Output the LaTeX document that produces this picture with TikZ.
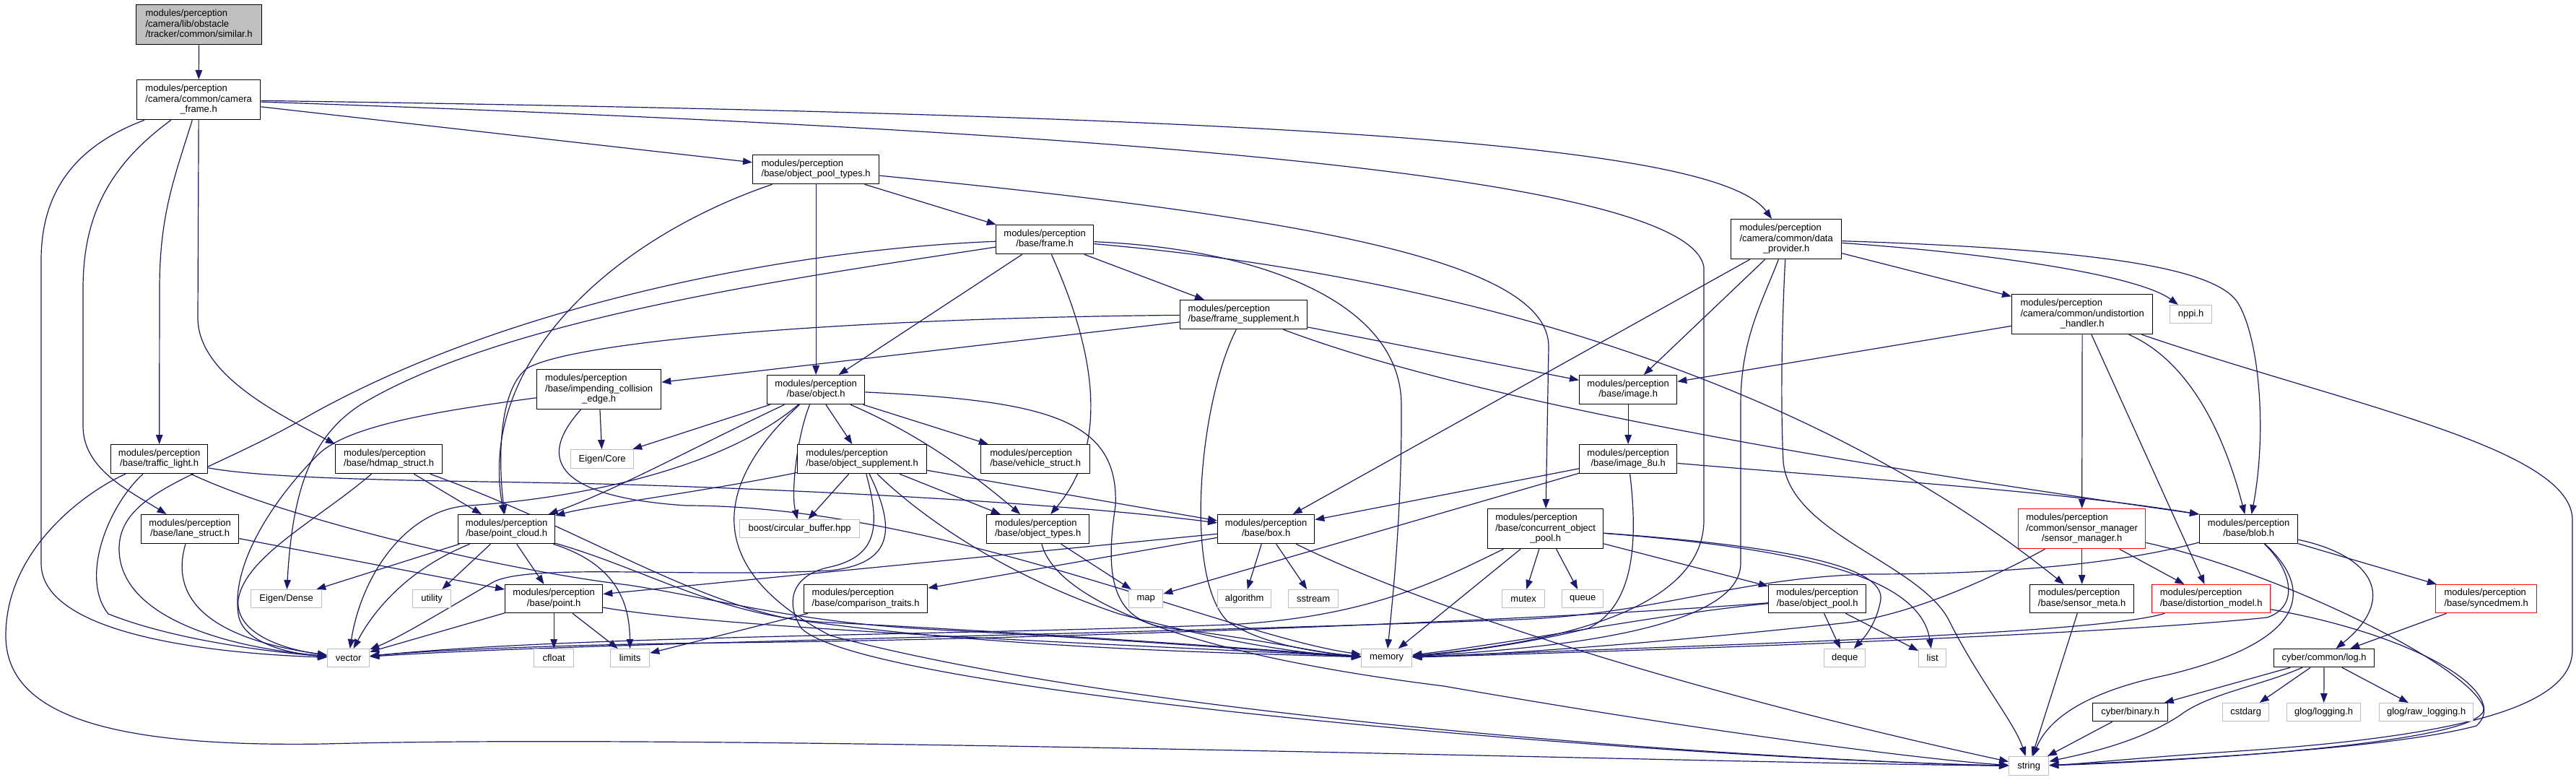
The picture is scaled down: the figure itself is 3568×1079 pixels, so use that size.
\documentclass[tikz,border=0pt]{standalone}
\usepackage{fontspec}
\setmainfont{Liberation Sans}
\usetikzlibrary{arrows.meta}
\pgfdeclarelayer{bg}
\pgfsetlayers{bg,main}
\definecolor{edgec}{HTML}{191970}
\definecolor{grayb}{HTML}{BFBFBF}
\newcommand\twol[2]{\begin{tabular}{@{}l@{}}#1\\\multicolumn{1}{@{}c@{}}{#2}\end{tabular}}
\newcommand\threel[3]{\begin{tabular}{@{}l@{}}#1\\#2\\\multicolumn{1}{@{}c@{}}{#3}\end{tabular}}
\newcommand\modp{modules/perception}
\newcommand\nd[7]{\node[#6,minimum width={#4-#2},minimum height={#5-#3},anchor=north west] (#1) at (#2,#3) {#7};}
\begin{document}
\begin{tikzpicture}[x=1pt,y=-1pt,
 nb/.style={font=\fontsize{13}{14.7}\selectfont,inner sep=0pt,line width=1.3pt,fill=white,text=black},
 fb/.style={nb,draw=black},
 sb/.style={nb,draw=grayb},
 rb/.style={nb,draw=red},
 rootb/.style={nb,draw=black,fill=grayb},
 edg/.style={draw=edgec,line width=1.2pt,-{Triangle[length=13pt,width=9.5pt]}}]
\useasboundingbox (0,0) rectangle (3568,1079);
\begin{pgfonlayer}{bg}
\fill[white] (0,0) rectangle (3568,1079);
\end{pgfonlayer}
% nodes
\nd{sim}{188}{6}{362}{61}{rootb}{\threel{\modp}{/camera/lib/obstacle}{/tracker/common/similar.h}}
\nd{cf}{189}{110}{360}{165}{fb}{\threel{\modp}{/camera/common/camera}{\_frame.h}}
\nd{opt}{1042}{214}{1217}{254}{fb}{\twol{\modp}{/base/object\_pool\_types.h}}
\nd{fr}{1379}{311}{1514}{351}{fb}{\twol{\modp}{/base/frame.h}}
\nd{dp}{2397}{303}{2550}{358}{fb}{\threel{\modp}{/camera/common/data}{\_provider.h}}
\nd{udh}{2786}{407}{2981}{462}{fb}{\threel{\modp}{/camera/common/undistortion}{\_handler.h}}
\nd{nppi}{3005}{422}{3063}{447}{sb}{nppi.h}
\nd{fs}{1634}{415}{1810}{455}{fb}{\twol{\modp}{/base/frame\_supplement.h}}
\nd{ice}{743}{511}{915}{566}{fb}{\threel{\modp}{/base/impending\_collision}{\_edge.h}}
\nd{obj}{1062}{519}{1197}{559}{fb}{\twol{\modp}{/base/object.h}}
\nd{img}{2187}{519}{2322}{559}{fb}{\twol{\modp}{/base/image.h}}
\nd{ecore}{790}{622}{877}{648}{sb}{Eigen/Core}
\nd{tl}{153}{615}{287}{655}{fb}{\twol{\modp}{/base/traffic\_light.h}}
\nd{hd}{464}{615}{612}{655}{fb}{\twol{\modp}{/base/hdmap\_struct.h}}
\nd{osup}{1104}{615}{1283}{655}{fb}{\twol{\modp}{/base/object\_supplement.h}}
\nd{veh}{1358}{615}{1509}{655}{fb}{\twol{\modp}{/base/vehicle\_struct.h}}
\nd{i8u}{2187}{615}{2322}{655}{fb}{\twol{\modp}{/base/image\_8u.h}}
\nd{ls}{195}{712}{330}{752}{fb}{\twol{\modp}{/base/lane\_struct.h}}
\nd{pc}{634}{712}{768}{752}{fb}{\twol{\modp}{/base/point\_cloud.h}}
\nd{bcb}{1024}{719}{1190}{744}{sb}{boost/circular\_buffer.hpp}
\nd{ot}{1366}{712}{1508}{752}{fb}{\twol{\modp}{/base/object\_types.h}}
\nd{box}{1686}{712}{1820}{752}{fb}{\twol{\modp}{/base/box.h}}
\nd{cop}{2060}{704}{2220}{759}{fb}{\threel{\modp}{/base/concurrent\_object}{\_pool.h}}
\nd{sm}{2795}{704}{2971}{759}{rb}{\threel{\modp}{/common/sensor\_manager}{/sensor\_manager.h}}
\nd{blob}{3046}{712}{3182}{752}{fb}{\twol{\modp}{/base/blob.h}}
\nd{edense}{347}{816}{445}{841}{sb}{Eigen/Dense}
\nd{util}{571}{816}{624}{841}{sb}{utility}
\nd{pt}{699}{809}{834}{848}{fb}{\twol{\modp}{/base/point.h}}
\nd{ct}{1113}{809}{1284}{848}{fb}{\twol{\modp}{/base/comparison\_traits.h}}
\nd{map}{1563}{816}{1610}{841}{sb}{map}
\nd{algo}{1686}{816}{1760}{841}{sb}{algorithm}
\nd{sstr}{1784}{816}{1853}{841}{sb}{sstream}
\nd{mutex}{2080}{816}{2139}{841}{sb}{mutex}
\nd{queue}{2163}{816}{2220}{841}{sb}{queue}
\nd{op}{2449}{809}{2584}{848}{fb}{\twol{\modp}{/base/object\_pool.h}}
\nd{smeta}{2811}{809}{2955}{848}{fb}{\twol{\modp}{/base/sensor\_meta.h}}
\nd{dm}{2980}{809}{3144}{848}{rb}{\twol{\modp}{/base/distortion\_model.h}}
\nd{sync}{3373}{809}{3513}{848}{rb}{\twol{\modp}{/base/syncedmem.h}}
\nd{vec}{453}{898}{511}{923}{sb}{vector}
\nd{cfl}{739}{898}{794}{923}{sb}{cfloat}
\nd{lim}{845}{898}{899}{923}{sb}{limits}
\nd{mem}{1885}{898}{1955}{923}{sb}{memory}
\nd{dq}{2526}{898}{2583}{923}{sb}{deque}
\nd{list}{2657}{898}{2695}{923}{sb}{list}
\nd{log}{3149}{898}{3288}{923}{fb}{cyber/common/log.h}
\nd{bin}{2898}{973}{3002}{998}{fb}{cyber/binary.h}
\nd{cstd}{3078}{973}{3142}{998}{sb}{cstdarg}
\nd{glog}{3167}{973}{3269}{998}{sb}{glog/logging.h}
\nd{glograw}{3295}{973}{3425}{998}{sb}{glog/raw\_logging.h}
\nd{str}{2782}{1047}{2837}{1073}{sb}{string}
% edges
\begin{pgfonlayer}{bg}
\draw[edg] (sim) -- (cf);
% camera_frame
\draw[edg] (cf) .. controls (1800,160) and (2380,200) .. (dp);
\draw[edg] (cf) -- (opt);
\draw[edg] (cf) .. controls (1500,180) and (2340,240) .. (2360,370) -- (2360,720) .. controls (2360,860) and (2100,895) .. (mem);
\draw[edg] (cf) .. controls (240,250) and (221,300) .. (221,400) -- (tl);
\draw[edg] (cf) .. controls (150,230) and (115,300) .. (115,400) -- (115,590) .. controls (115,650) and (180,680) .. (ls);
\draw[edg] (cf) .. controls (110,200) and (57,260) .. (57,360) -- (57,780) .. controls (57,880) and (300,905) .. (vec);
\draw[edg] (cf.south) -- (274,440) .. controls (274,520) and (390,575) .. (hd.north west);
% object_pool_types
\draw[edg] (opt) .. controls (850,330) and (660,500) .. (pc);
\draw[edg] (opt) -- (obj);
\draw[edg] (opt) -- (fr);
\draw[edg] (opt) .. controls (1800,300) and (2145,360) .. (2145,480) -- (cop);
% data_provider
\draw[edg] (dp) -- (box);
\draw[edg] (dp) -- (img);
\draw[edg] (dp) .. controls (2440,420) and (2411,470) .. (2411,560) -- (2411,780) .. controls (2411,880) and (2100,900) .. (mem);
\draw[edg] (dp) .. controls (2468,450) and (2466,560) .. (2470,640) .. controls (2480,740) and (2660,780) .. (2700,860) .. controls (2740,940) and (2790,1000) .. (str);
\draw[edg] (dp) -- (udh);
\draw[edg] (dp) .. controls (2750,350) and (2960,380) .. (nppi);
\draw[edg] (dp) .. controls (2900,345) and (3070,370) .. (3100,420) .. controls (3130,470) and (3140,600) .. (blob);
% undistortion_handler
\draw[edg] (udh) -- (img);
\draw[edg] (udh) -- (sm);
\draw[edg] (udh) -- (dm);
\draw[edg] (udh) .. controls (3010,490) and (3070,560) .. (blob);
\draw[edg] (udh) .. controls (3250,560) and (3563,620) .. (3563,720) -- (3563,900) .. controls (3563,980) and (3400,1020) .. (3100,1040) .. controls (2950,1050) and (2880,1058) .. (str);
% frame
\draw[edg] (fr) .. controls (1100,345) and (700,420) .. (420,580) .. controls (280,660) and (165,680) .. (165,760) .. controls (165,850) and (300,895) .. (vec);
\draw[edg] (fr) .. controls (1100,385) and (700,440) .. (500,560) .. controls (430,605) and (405,680) .. (edense);
\draw[edg] (fr) -- (obj);
\draw[edg] (fr) .. controls (1500,450) and (1550,600) .. (ot);
\draw[edg] (fr) -- (fs);
\draw[edg] (fr) .. controls (1750,345) and (1940,420) .. (1941,560) .. controls (1942,700) and (1930,820) .. (mem);
\draw[edg] (fr) .. controls (2000,380) and (2500,520) .. (smeta);
% frame_supplement
\draw[edg] (fs) .. controls (1200,440) and (800,470) .. (730,510) .. controls (690,540) and (690,640) .. (pc);
\draw[edg] (fs) -- (ice);
\draw[edg] (fs) .. controls (1660,560) and (1640,800) .. (1700,860) .. controls (1750,895) and (1840,905) .. (mem);
\draw[edg] (fs) -- (img);
\draw[edg] (fs) .. controls (2000,540) and (2400,620) .. (blob.north west);
% impending_collision_edge
\draw[edg] (ice) .. controls (600,570) and (480,590) .. (440,630) .. controls (380,690) and (320,780) .. (330,850) .. controls (335,890) and (400,905) .. (vec);
\draw[edg] (ice) -- (ecore);
\draw[edg] (ice) .. controls (730,650) and (800,690) .. (950,700) .. controls (1300,700) and (1700,880) .. (mem);
% object
\draw[edg] (obj) -- (ecore);
\draw[edg] (obj) .. controls (960,620) and (850,680) .. (pc);
\draw[edg] (obj) .. controls (1000,650) and (800,690) .. (650,700) .. controls (560,705) and (500,800) .. (vec);
\draw[edg] (obj) .. controls (1105,600) and (1095,680) .. (bcb);
\draw[edg] (obj) .. controls (1020,640) and (940,770) .. (1150,880) .. controls (1600,1000) and (2500,1055) .. (str);
\draw[edg] (obj) -- (osup);
\draw[edg] (obj) .. controls (1270,600) and (1340,650) .. (ot);
\draw[edg] (obj) -- (veh);
\draw[edg] (obj) .. controls (1450,555) and (1550,580) .. (1545,700) .. controls (1530,800) and (1540,860) .. (1620,870) .. controls (1750,885) and (1830,905) .. (mem);
% object_supplement
\draw[edg] (osup) .. controls (980,680) and (820,700) .. (pc);
\draw[edg] (osup) -- (bcb);
\draw[edg] (osup) .. controls (1240,730) and (1240,780) .. (1150,790) .. controls (950,800) and (740,780) .. (685,805) .. controls (640,830) and (560,880) .. (vec);
\draw[edg] (osup) .. controls (1220,730) and (1215,770) .. (1150,785) .. controls (1100,795) and (1085,830) .. (1110,870) .. controls (1200,960) and (2300,1050) .. (str);
\draw[edg] (osup) .. controls (1280,720) and (1400,800) .. (1550,850) .. controls (1700,890) and (1800,905) .. (mem);
\draw[edg] (osup) -- (ot);
\draw[edg] (osup) -- (box);
% traffic_light
\draw[edg] (tl) .. controls (400,668) and (700,665) .. (900,672) .. controls (1200,682) and (1500,700) .. (box);
\draw[edg] (tl) .. controls (400,720) and (700,790) .. (870,810) .. controls (1000,830) and (1100,862) .. (1300,872) .. controls (1600,888) and (1800,905) .. (mem);
\draw[edg] (tl) .. controls (150,700) and (110,800) .. (150,850) .. controls (250,890) and (400,905) .. (vec);
\draw[edg] (tl) .. controls (120,680) and (8,760) .. (8,880) .. controls (8,990) and (150,1035) .. (450,1030) .. controls (1000,1015) and (2300,1055) .. (str);
% lane_struct
\draw[edg] (ls) .. controls (240,810) and (260,880) .. (vec);
\draw[edg] (ls) -- (pt);
% hdmap_struct
\draw[edg] (hd) .. controls (440,720) and (340,770) .. (330,830) .. controls (325,880) and (400,900) .. (vec);
\draw[edg] (hd) -- (pc);
\draw[edg] (hd) .. controls (800,730) and (950,830) .. (1100,858) .. controls (1400,900) and (1750,905) .. (mem);
% point_cloud
\draw[edg] (pc) -- (edense);
\draw[edg] (pc) .. controls (560,790) and (515,850) .. (vec);
\draw[edg] (pc) -- (util);
\draw[edg] (pc) -- (pt);
\draw[edg] (pc) .. controls (850,780) and (872,830) .. (lim);
\draw[edg] (pc) .. controls (900,790) and (1000,855) .. (1150,862) .. controls (1500,880) and (1750,900) .. (mem);
% point
\draw[edg] (pt) -- (vec);
\draw[edg] (pt) -- (cfl);
\draw[edg] (pt) -- (lim);
\draw[edg] (pt) .. controls (1000,870) and (1500,890) .. (mem);
% comparison_traits
\draw[edg] (ct) -- (lim);
% box
\draw[edg] (box) -- (ct);
\draw[edg] (box) -- (pt);
\draw[edg] (box) -- (algo);
\draw[edg] (box) -- (sstr);
\draw[edg] (box) .. controls (1950,830) and (2300,950) .. (str);
% object_types
\draw[edg] (ot) -- (map);
\draw[edg] (ot) .. controls (1460,820) and (1600,900) .. (2000,950) .. controls (2400,1020) and (2700,1055) .. (str);
% image / image_8u
\draw[edg] (img) -- (i8u);
\draw[edg] (i8u) -- (box);
\draw[edg] (i8u) -- (map);
\draw[edg] (i8u) .. controls (2270,760) and (2260,840) .. (2200,870) .. controls (2100,895) and (2000,905) .. (mem);
\draw[edg] (i8u) .. controls (2600,665) and (2850,680) .. (blob.north west);
% concurrent_object_pool
\draw[edg] (cop) .. controls (2000,800) and (1900,855) .. (1700,865) .. controls (1300,880) and (800,880) .. (vec);
\draw[edg] (cop) -- (mem);
\draw[edg] (cop) -- (mutex);
\draw[edg] (cop) -- (queue);
\draw[edg] (cop) -- (op);
\draw[edg] (cop) .. controls (2450,755) and (2610,780) .. (2605,830) .. controls (2600,860) and (2585,880) .. (dq);
\draw[edg] (cop) .. controls (2500,760) and (2660,800) .. (list);
% object_pool
\draw[edg] (op) .. controls (2300,850) and (2100,890) .. (mem);
\draw[edg] (op) .. controls (2200,855) and (1500,885) .. (1000,890) .. controls (800,892) and (600,900) .. (vec);
\draw[edg] (op) -- (dq);
\draw[edg] (op) -- (list);
% sensor_manager
\draw[edg] (sm) -- (smeta);
\draw[edg] (sm) -- (dm);
\draw[edg] (sm) .. controls (2760,800) and (2650,850) .. (2560,862) .. controls (2300,890) and (2100,905) .. (mem);
\draw[edg] (sm) .. controls (3150,790) and (3420,920) .. (3440,980) .. controls (3450,1030) and (3000,1055) .. (str);
% sensor_meta / distortion_model
\draw[edg] (smeta) -- (str);
\draw[edg] (dm) .. controls (2900,880) and (2300,895) .. (mem);
\draw[edg] (dm) .. controls (3350,880) and (3480,960) .. (3430,1005) .. controls (3300,1040) and (2950,1055) .. (str);
% blob
\draw[edg] (blob) .. controls (2900,790) and (2700,795) .. (2590,795) .. controls (2400,800) and (2300,850) .. (2100,858) .. controls (1500,880) and (800,890) .. (vec);
\draw[edg] (blob) .. controls (3175,790) and (3185,840) .. (3140,855) .. controls (2900,880) and (2300,900) .. (mem);
\draw[edg] (blob) .. controls (3210,820) and (3190,890) .. (3000,935) .. controls (2880,960) and (2835,1000) .. (str);
\draw[edg] (blob) .. controls (3290,770) and (3320,830) .. (log);
\draw[edg] (blob) -- (sync);
\draw[edg] (sync) -- (log);
% log
\draw[edg] (log) -- (bin);
\draw[edg] (log) .. controls (3130,950) and (3060,960) .. (3020,990) .. controls (2960,1030) and (2880,1045) .. (str);
\draw[edg] (log) -- (cstd);
\draw[edg] (log) -- (glog);
\draw[edg] (log) -- (glograw);
\draw[edg] (bin) -- (str);
\end{pgfonlayer}
\end{tikzpicture}
\end{document}
